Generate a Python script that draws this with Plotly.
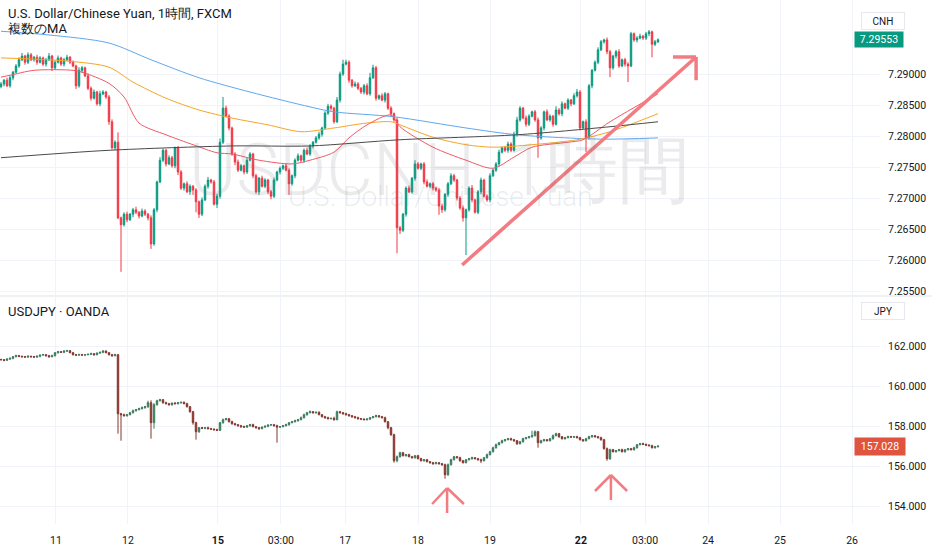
import plotly.graph_objects as go

# ---- USDCNH 1h candles (close, wick lengths in pips) ----
cnh_open0 = 7.2880
cnh_close = [
    7.2884, 7.2890, 7.2881, 7.2894, 7.2903, 7.2913, 7.2923, 7.2929, 7.2919, 7.2931,
    7.2923, 7.2927, 7.2919, 7.2926, 7.2916, 7.2923, 7.2929, 7.2910, 7.2919, 7.2926,
    7.2916, 7.2923, 7.2927, 7.2919, 7.2913, 7.2881, 7.2906, 7.2910, 7.2897, 7.2877,
    7.2861, 7.2871, 7.2852, 7.2868, 7.2871, 7.2863, 7.2823, 7.2781, 7.2790, 7.2668,
    7.2657, 7.2674, 7.2665, 7.2674, 7.2681, 7.2677, 7.2671, 7.2679, 7.2674, 7.2668,
    7.2626, 7.2681, 7.2726, 7.2761, 7.2777, 7.2755, 7.2765, 7.2752, 7.2781, 7.2742,
    7.2716, 7.2723, 7.2710, 7.2719, 7.2713, 7.2694, 7.2674, 7.2697, 7.2719, 7.2729,
    7.2726, 7.2690, 7.2703, 7.2790, 7.2845, 7.2832, 7.2813, 7.2771, 7.2758, 7.2745,
    7.2752, 7.2742, 7.2761, 7.2771, 7.2736, 7.2710, 7.2732, 7.2719, 7.2729, 7.2710,
    7.2703, 7.2729, 7.2742, 7.2748, 7.2752, 7.2745, 7.2723, 7.2736, 7.2761, 7.2768,
    7.2761, 7.2777, 7.2771, 7.2784, 7.2790, 7.2797, 7.2803, 7.2813, 7.2837, 7.2848,
    7.2845, 7.2823, 7.2858, 7.2900, 7.2916, 7.2919, 7.2890, 7.2881, 7.2884, 7.2877,
    7.2871, 7.2881, 7.2868, 7.2894, 7.2910, 7.2861, 7.2865, 7.2858, 7.2868, 7.2845,
    7.2836, 7.2826, 7.2652, 7.2648, 7.2674, 7.2716, 7.2710, 7.2732, 7.2755, 7.2748,
    7.2755, 7.2726, 7.2719, 7.2723, 7.2716, 7.2713, 7.2687, 7.2681, 7.2706, 7.2723,
    7.2736, 7.2729, 7.2700, 7.2684, 7.2668, 7.2681, 7.2716, 7.2697, 7.2677, 7.2710,
    7.2729, 7.2703, 7.2697, 7.2736, 7.2745, 7.2755, 7.2774, 7.2781, 7.2777, 7.2787,
    7.2777, 7.2803, 7.2826, 7.2845, 7.2829, 7.2819, 7.2832, 7.2839, 7.2826, 7.2797,
    7.2813, 7.2839, 7.2826, 7.2832, 7.2819, 7.2842, 7.2836, 7.2852, 7.2845, 7.2858,
    7.2852, 7.2865, 7.2871, 7.2813, 7.2823, 7.2797, 7.2881, 7.2906, 7.2919, 7.2939,
    7.2952, 7.2955, 7.2936, 7.2910, 7.2929, 7.2936, 7.2913, 7.2923, 7.2916, 7.2913,
    7.2965, 7.2955, 7.2958, 7.2961, 7.2958, 7.2965, 7.2968, 7.2948, 7.2952, 7.29553,
]
cnh_wick_up = [
    3, 2, 4, 3, 2, 3, 4, 5, 2, 4,  3, 2, 4, 3, 2, 3, 5, 2, 3, 4,
    2, 3, 4, 2, 3, 2, 5, 3, 2, 4,  3, 4, 2, 5, 3, 2, 3, 4, 3, 16,
    2, 3, 4, 2, 3, 5, 2, 4, 3, 2,  4, 3, 2, 5, 3, 2, 4, 3, 2, 3,
    3, 2, 4, 3, 2, 3, 2, 4, 3, 5,  2, 3, 4, 6, 18, 4, 3, 2, 3, 4,
    3, 2, 4, 3, 2, 3, 2, 4, 3, 2,  3, 4, 2, 3, 2, 4, 3, 2, 3, 4,
    2, 3, 4, 3, 2, 3, 4, 2, 3, 4,  3, 2, 5, 4, 7, 4, 3, 2, 4, 3,
    2, 3, 4, 8, 5, 3, 2, 4, 3, 2,  3, 2, 4, 3, 2, 3, 4, 2, 6, 3,
    2, 3, 4, 2, 3, 2, 3, 4, 2, 3,  4, 3, 2, 3, 4, 2, 3, 5, 2, 3,
    4, 2, 3, 4, 2, 3, 4, 2, 3, 4,  3, 4, 5, 3, 2, 4, 3, 2, 3, 4,
    3, 2, 4, 3, 2, 6, 3, 4, 2, 3,  2, 4, 5, 3, 2, 4, 3, 2, 3, 4,
    3, 2, 4, 3, 2, 3, 4, 2, 3, 3,  3, 2, 3, 4, 2, 3, 3, 2, 3, 2,
]
cnh_wick_dn = [
    3, 4, 2, 3, 4, 2, 3, 2, 4, 3,  2, 3, 4, 2, 3, 4, 2, 5, 3, 2,
    3, 4, 2, 3, 2, 5, 3, 4, 2, 3,  4, 2, 3, 4, 2, 3, 5, 3, 4, 2,
    76, 3, 4, 2, 5, 3, 4, 2, 3, 4,  8, 3, 4, 2, 3, 4, 2, 3, 4, 5,
    3, 4, 2, 5, 8, 17, 6, 3, 2, 4,  3, 2, 6, 4, 3, 2, 4, 3, 5, 3,
    2, 4, 3, 2, 4, 3, 5, 2, 3, 4,  5, 3, 2, 4, 3, 2, 18, 3, 4, 2,
    3, 4, 2, 3, 4, 2, 3, 4, 2, 3,  4, 3, 2, 4, 3, 2, 4, 3, 2, 3,
    3, 4, 2, 3, 2, 4, 3, 2, 4, 3,  4, 3, 41, 6, 3, 4, 2, 3, 4, 2,
    3, 4, 2, 3, 4, 3, 14, 5, 3, 4,  2, 3, 4, 3, 6, 60, 3, 4, 2, 3,
    4, 2, 3, 4, 2, 3, 4, 2, 3, 4,  3, 2, 4, 3, 2, 4, 3, 2, 3, 32,
    3, 4, 2, 3, 4, 2, 3, 4, 2, 3,  4, 2, 3, 4, 2, 23, 3, 4, 2, 3,
    2, 3, 4, 15, 3, 4, 3, 2, 4, 26,  2, 3, 4, 2, 3, 3, 4, 21, 3, 2,
]

# moving averages (candle index, price)
ma_blue_idx = [0, 16, 36, 50, 66, 83, 103, 111, 131, 155, 172, 200, 219]
ma_blue_val = [7.2969, 7.2963, 7.2950, 7.2923, 7.2894, 7.2871, 7.2847, 7.2839,
               7.2831, 7.2813, 7.2802, 7.2795, 7.2797]
ma_orange_idx = [0, 22, 36, 44, 55, 66, 77, 89, 100, 111, 122, 130, 133, 144,
                 155, 164, 177, 192, 203, 219]
ma_orange_val = [7.2926, 7.2921, 7.2911, 7.2887, 7.2861, 7.2842, 7.2829, 7.2818,
                 7.2807, 7.2813, 7.2821, 7.2823, 7.2818, 7.2798, 7.2786, 7.2782,
                 7.2786, 7.2794, 7.2807, 7.2836]
ma_red_idx = [0, 3, 11, 24, 27, 36, 41, 46, 55, 64, 72, 77, 86, 97, 103, 111,
              116, 122, 130, 133, 144, 155, 164, 171, 177, 189, 194, 203, 219]
ma_red_val = [7.2895, 7.2898, 7.2906, 7.2906, 7.2903, 7.2885, 7.2863, 7.2821,
              7.2802, 7.2786, 7.2773, 7.2771, 7.2761, 7.2755, 7.2761, 7.2774,
              7.2797, 7.2818, 7.2834, 7.2815, 7.2782, 7.2761, 7.2748, 7.2766,
              7.2782, 7.2790, 7.2794, 7.2823, 7.2868]
ma_black_idx = [0, 36, 77, 103, 133, 172, 203, 219]
ma_black_val = [7.2765, 7.2777, 7.2784, 7.2784, 7.2794, 7.2802, 7.2815, 7.2823]

# ---- USDJPY 1h candles ----
jpy_open0 = 161.36
jpy_close = [
    161.35, 161.32, 161.38, 161.42, 161.50, 161.55, 161.52, 161.50, 161.48, 161.52,
    161.50, 161.48, 161.52, 161.58, 161.60, 161.55, 161.50, 161.55, 161.70, 161.75,
    161.72, 161.78, 161.80, 161.70, 161.60, 161.58, 161.60, 161.58, 161.60, 161.62,
    161.65, 161.60, 161.68, 161.72, 161.78, 161.70, 161.60, 161.55, 161.60, 158.65,
    158.60, 158.55, 158.60, 158.70, 158.80, 158.85, 158.90, 158.95, 159.00, 159.20,
    158.20, 159.10, 159.30, 159.35, 159.20, 159.15, 159.10, 159.18, 159.15, 159.20,
    159.22, 159.15, 159.00, 158.75, 158.20, 157.75, 157.95, 157.92, 157.95, 157.90,
    157.88, 157.85, 157.82, 158.20, 158.35, 158.40, 158.25, 158.15, 158.10, 158.05,
    158.00, 157.98, 158.05, 158.10, 158.00, 157.95, 157.90, 157.98, 158.02, 158.08,
    158.10, 158.05, 157.98, 158.00, 158.05, 158.10, 158.20, 158.25, 158.30, 158.35,
    158.45, 158.60, 158.70, 158.75, 158.70, 158.72, 158.60, 158.50, 158.45, 158.40,
    158.42, 158.35, 158.75, 158.70, 158.65, 158.60, 158.55, 158.50, 158.45, 158.40,
    158.38, 158.35, 158.38, 158.45, 158.50, 158.55, 158.50, 158.45, 158.25, 157.95,
    157.60, 156.30, 156.50, 156.70, 156.55, 156.60, 156.50, 156.45, 156.55, 156.40,
    156.30, 156.35, 156.25, 156.20, 156.15, 156.20, 156.15, 156.10, 155.60, 156.10,
    156.35, 156.50, 156.45, 156.30, 156.20, 156.35, 156.40, 156.45, 156.40, 156.35,
    156.30, 156.45, 156.60, 156.75, 156.95, 157.10, 157.20, 157.30, 157.35, 157.40,
    157.35, 157.30, 157.15, 157.25, 157.40, 157.45, 157.50, 157.55, 157.75, 157.20,
    157.30, 157.35, 157.30, 157.40, 157.55, 157.65, 157.50, 157.40, 157.45, 157.50,
    157.48, 157.50, 157.45, 157.35, 157.30, 157.40, 157.50, 157.55, 157.50, 157.45,
    157.35, 156.90, 156.40, 156.85, 156.75, 156.80, 156.85, 156.75, 156.85, 156.90,
    156.85, 156.95, 157.10, 157.15, 157.12, 157.08, 157.05, 156.95, 157.00, 157.028,
]
jpy_wick_up = [
    4, 3, 5, 4, 3, 5, 4, 3, 4, 5,  3, 4, 5, 3, 4, 3, 4, 5, 3, 4,
    3, 5, 4, 3, 4, 3, 5, 4, 3, 4,  5, 3, 4, 3, 5, 4, 3, 4, 5, 3,
    4, 5, 3, 4, 6, 4, 5, 6, 4, 10,  12, 8, 5, 4, 3, 5, 4, 3, 5, 4,
    3, 4, 5, 3, 4, 5, 3, 4, 3, 5,  4, 3, 5, 4, 6, 4, 3, 5, 4, 3,
    4, 5, 3, 4, 5, 3, 4, 3, 5, 4,  3, 4, 5, 3, 4, 5, 3, 4, 5, 4,
    6, 5, 4, 6, 3, 4, 5, 3, 4, 5,  3, 8, 5, 4, 3, 5, 4, 3, 4, 5,
    3, 4, 5, 3, 4, 5, 3, 4, 5, 3,  4, 5, 6, 5, 4, 3, 5, 4, 3, 4,
    5, 3, 4, 3, 4, 5, 3, 4, 5, 6,  5, 4, 3, 5, 4, 3, 4, 5, 3, 4,
    5, 4, 6, 4, 5, 6, 4, 5, 3, 4,  5, 4, 3, 4, 5, 4, 3, 25, 6, 4,
    5, 4, 3, 4, 6, 5, 4, 3, 4, 5,  4, 3, 5, 4, 3, 4, 5, 4, 3, 4,
    5, 4, 6, 5, 4, 3, 4, 5, 4, 3,  4, 5, 3, 4, 5, 3, 4, 5, 3, 4,
]
jpy_wick_dn = [
    4, 5, 3, 4, 5, 3, 4, 5, 3, 4,  5, 3, 4, 5, 3, 4, 5, 3, 4, 5,
    3, 4, 5, 3, 4, 5, 3, 4, 5, 3,  4, 5, 3, 4, 5, 3, 4, 5, 3, 100,
    130, 4, 5, 3, 4, 5, 3, 4, 5, 6,  80, 30, 5, 4, 5, 3, 4, 5, 3, 4,
    5, 3, 4, 5, 10, 40, 6, 4, 5, 3,  4, 5, 3, 4, 5, 3, 4, 5, 3, 4,
    5, 3, 4, 5, 3, 4, 5, 3, 4, 5,  3, 4, 78, 5, 3, 4, 5, 3, 4, 5,
    3, 4, 5, 3, 4, 5, 3, 4, 5, 3,  4, 5, 3, 4, 5, 3, 4, 5, 3, 4,
    5, 3, 4, 5, 3, 4, 5, 3, 4, 8,  6, 10, 8, 5, 4, 5, 3, 4, 5, 3,
    4, 5, 3, 4, 5, 3, 4, 5, 20, 6,  5, 4, 3, 5, 4, 3, 4, 5, 3, 4,
    12, 4, 5, 3, 4, 5, 3, 4, 5, 3,  4, 5, 6, 4, 5, 3, 4, 5, 4, 25,
    4, 5, 3, 4, 5, 3, 6, 4, 5, 3,  4, 5, 3, 4, 5, 4, 3, 5, 4, 3,
    5, 4, 10, 6, 4, 5, 3, 4, 5, 4,  3, 4, 5, 3, 4, 5, 3, 4, 5, 4,
]

tick_pos = [18.3, 42.3, 72.3, 93.3, 114.7, 139, 163, 193.3, 214.7, 235.7, 259.7, 283.7]
tick_text = ["11", "12", "<b>15</b>", "03:00", "17", "18", "19", "<b>22</b>",
             "03:00", "24", "25", "26"]

CNH_PIP = 0.0001
JPY_PIP = 0.01


def build_ohlc(open0, closes, up, dn, pip):
    opens = [open0] + closes[:-1]
    highs = [max(o, c) + u * pip for o, c, u in zip(opens, closes, up)]
    lows = [min(o, c) - d * pip for o, c, d in zip(opens, closes, dn)]
    return opens, highs, lows


cnh_o, cnh_h, cnh_l = build_ohlc(cnh_open0, cnh_close, cnh_wick_up, cnh_wick_dn, CNH_PIP)
jpy_o, jpy_h, jpy_l = build_ohlc(jpy_open0, jpy_close, jpy_wick_up, jpy_wick_dn, JPY_PIP)
idx = list(range(len(cnh_close)))

W, H = 932, 550
ML, MR, MT, MB = 0, 52, 0, 26
PW, PH = W - ML - MR, H - MT - MB


def px(x):
    return (x - ML) / PW


def py(y):
    return 1 - (y - MT) / PH


FONT = "Roboto, 'Open Sans', sans-serif"
GRID = "#f0f3fa"
TXT = "#131722"

fig = go.Figure()

fig.add_trace(go.Candlestick(
    x=idx, open=cnh_o, high=cnh_h, low=cnh_l, close=cnh_close,
    xaxis="x", yaxis="y",
    increasing=dict(line=dict(color="#089981", width=1), fillcolor="#089981"),
    decreasing=dict(line=dict(color="#F23645", width=1), fillcolor="#F23645"),
    hoverinfo="skip",
))

for xs, ys, col in [(ma_blue_idx, ma_blue_val, "#5fa8ee"),
                    (ma_orange_idx, ma_orange_val, "#f5a623"),
                    (ma_red_idx, ma_red_val, "#ef5a63"),
                    (ma_black_idx, ma_black_val, "#4a4a4a")]:
    fig.add_trace(go.Scatter(x=xs, y=ys, mode="lines", xaxis="x", yaxis="y",
                             line=dict(color=col, width=1, shape="spline", smoothing=0.8),
                             hoverinfo="skip"))

fig.add_trace(go.Candlestick(
    x=idx, open=jpy_o, high=jpy_h, low=jpy_l, close=jpy_close,
    xaxis="x2", yaxis="y2",
    increasing=dict(line=dict(color="#3b7a5e", width=1), fillcolor="#3f8f69"),
    decreasing=dict(line=dict(color="#84352c", width=1), fillcolor="#a13f32"),
    hoverinfo="skip",
))

top_dom = [py(295), 1]
bot_dom = [0, py(297)]
top_range = [7.30194 - 295 * 0.00016129, 7.30194]
bot_range = [153.135, 164.485]
x_range = [-1 / 3, (PW - 1) / 3]

axis_common = dict(showline=False, zeroline=False, gridcolor=GRID, gridwidth=1)

fig.update_layout(
    width=W, height=H,
    margin=dict(l=ML, r=MR, t=MT, b=MB),
    paper_bgcolor="white", plot_bgcolor="white",
    showlegend=False,
    font=dict(family=FONT, color=TXT, size=11),
    xaxis=dict(domain=[0, 1], anchor="y", range=x_range, tickvals=tick_pos,
               showticklabels=False, rangeslider=dict(visible=False), **axis_common),
    xaxis2=dict(domain=[0, 1], anchor="y2", range=x_range, tickvals=tick_pos,
                ticktext=tick_text, ticks="", tickfont=dict(size=10.5, color=TXT),
                rangeslider=dict(visible=False), ticklabelstandoff=8, **axis_common),
    yaxis=dict(domain=top_dom, anchor="x", side="right", range=top_range,
               tickvals=[7.255, 7.26, 7.265, 7.27, 7.275, 7.28, 7.285, 7.29],
               tickformat=".5f", ticks="", ticklabelstandoff=7,
               tickfont=dict(size=10.5, color=TXT), **axis_common),
    yaxis2=dict(domain=bot_dom, anchor="x2", side="right", range=bot_range,
                tickvals=[154, 156, 158, 160, 162], tickformat=".3f", ticks="",
                ticklabelstandoff=7, tickfont=dict(size=10.5, color=TXT), **axis_common),
)

# divider between panes
fig.add_shape(type="line", xref="paper", yref="paper", x0=0, x1=W / PW,
              y0=py(296), y1=py(296), line=dict(color="#e0e3eb", width=1))

# hand-drawn arrows
ARROW = "#f27c82"
tip = (231.7, 7.29275)
fig.add_shape(type="line", xref="x", yref="y", x0=153.7, y0=7.2592, x1=tip[0], y1=tip[1],
              line=dict(color=ARROW, width=3.5))
fig.add_shape(type="line", xref="x", yref="y", x0=224.0, y0=tip[1], x1=tip[0], y1=tip[1],
              line=dict(color=ARROW, width=3.5))
fig.add_shape(type="line", xref="x", yref="y", x0=tip[0], y0=7.2890, x1=tip[0], y1=tip[1],
              line=dict(color=ARROW, width=3.5))

for tx, ty, lx, rx, arm_y, base_y in [(148.7, 154.935, 143.7, 154.3, 154.135, 153.685),
                                       (203.3, 155.585, 198.0, 208.7, 154.785, 154.335)]:
    fig.add_shape(type="line", xref="x2", yref="y2", x0=tx, y0=base_y, x1=tx, y1=ty,
                  line=dict(color=ARROW, width=2.5))
    fig.add_shape(type="line", xref="x2", yref="y2", x0=lx, y0=arm_y, x1=tx, y1=ty,
                  line=dict(color=ARROW, width=2.5))
    fig.add_shape(type="line", xref="x2", yref="y2", x0=rx, y0=arm_y, x1=tx, y1=ty,
                  line=dict(color=ARROW, width=2.5))

# watermark
WM = "rgba(110,115,130,0.14)"
fig.add_annotation(text="USDCNH, 1時間", xref="paper", yref="paper", x=px(439), y=py(126),
                   showarrow=False, font=dict(size=72, color=WM, family=FONT, weight=300))
fig.add_annotation(text="U.S. Dollar/Chinese Yuan", xref="paper", yref="paper",
                   x=px(440), y=py(197), showarrow=False,
                   font=dict(size=28, color=WM, family=FONT, weight=300))

# pane titles
for text, yy in [("U.S. Dollar/Chinese Yuan, 1時間, FXCM", 14), ("複数のMA", 28.5),
                 ("USDJPY · OANDA", 311)]:
    fig.add_annotation(text=text, xref="paper", yref="paper", x=px(6), y=py(yy),
                       xanchor="left", yanchor="middle", showarrow=False,
                       font=dict(size=13, color=TXT))

# currency boxes
for text, yy in [("CNH", 12), ("JPY", 311)]:
    fig.add_annotation(text=text, xref="paper", yref="paper", x=px(905), y=py(yy),
                       showarrow=False, width=40, height=14, bgcolor="white",
                       bordercolor="#e6e8ee", borderwidth=1, borderpad=1,
                       font=dict(size=10, color=TXT))

# last price labels
fig.add_annotation(text="7.29553", xref="paper", yref="y", x=px(904), y=cnh_close[-1],
                   showarrow=False, width=46, height=13, bgcolor="#089981",
                   font=dict(size=10.5, color="white"))
fig.add_annotation(text="157.028", xref="paper", yref="y2", x=px(906), y=jpy_close[-1],
                   showarrow=False, width=48, height=15, bgcolor="#e0533f",
                   font=dict(size=10.5, color="white"))

fig.write_html("out.html", config={"displayModeBar": False},
               post_script="document.body.style.margin='0';")
